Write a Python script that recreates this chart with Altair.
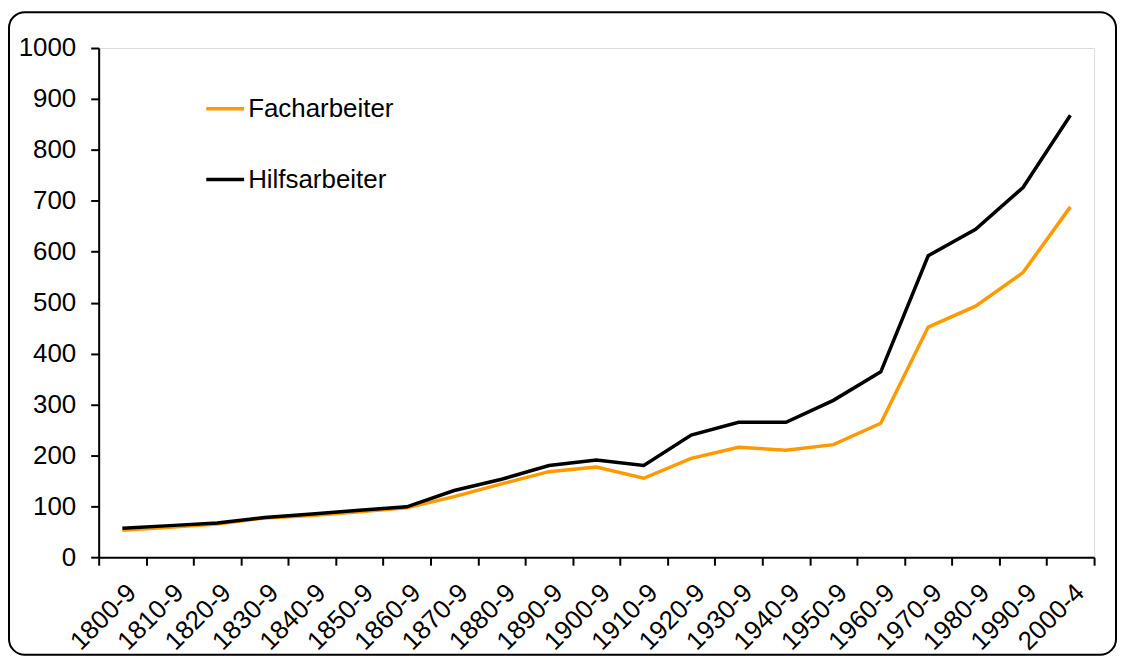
import altair as alt
import pandas as pd

periods = ["1800-9", "1810-9", "1820-9", "1830-9", "1840-9", "1850-9", "1860-9",
           "1870-9", "1880-9", "1890-9", "1900-9", "1910-9", "1920-9", "1930-9",
           "1940-9", "1950-9", "1960-9", "1970-9", "1980-9", "1990-9", "2000-4"]
facharbeiter = [53, 59, 65, 77, 82, 89, 97, 119, 144, 168, 177, 155, 194, 216,
                210, 221, 263, 452, 493, 559, 688]
hilfsarbeiter = [57, 62, 67, 78, 85, 92, 99, 131, 153, 180, 191, 180, 240, 265,
                 265, 308, 364, 592, 644, 726, 868]
series = ["Facharbeiter", "Hilfsarbeiter"]
colors = ["#FF9900", "#000000"]
y_ticks = list(range(0, 1001, 100))

rows = []
for name, vals in zip(series, [facharbeiter, hilfsarbeiter]):
    for p, v in zip(periods, vals):
        rows.append({"Zeitraum": p, "Wert": v, "Gruppe": name})
df = pd.DataFrame(rows)

FONT = "Liberation Sans"
FS = 26

frame = alt.Chart(alt.Data(values=[{"a": 1}])).mark_rect(
    fillOpacity=0, stroke="black", strokeWidth=2, cornerRadius=16
).encode(
    x=alt.value(-90), x2=alt.value(1021), y=alt.value(-36), y2=alt.value(609)
)

lines = alt.Chart(df).mark_line(strokeWidth=3.5).encode(
    x=alt.X("Zeitraum:N", sort=periods,
            scale=alt.Scale(type="band", paddingInner=0, paddingOuter=0),
            axis=alt.Axis(title=None, labelAngle=-45, tickBand="extent",
                          labelFont=FONT, labelFontSize=FS, labelColor="black",
                          domainColor="black", domainWidth=2, tickColor="black",
                          tickWidth=2, tickSize=8, labelPadding=14, grid=False,
                          zindex=1)),
    y=alt.Y("Wert:Q",
            scale=alt.Scale(domain=[0, 1000], nice=False),
            axis=alt.Axis(title=None, values=y_ticks, format="d",
                          labelFont=FONT, labelFontSize=FS, labelColor="black",
                          domainColor="black", domainWidth=2,
                          tickColor="black", tickWidth=2, tickSize=8,
                          labelPadding=15, grid=False, zindex=1)),
    color=alt.Color("Gruppe:N", sort=series,
                    scale=alt.Scale(domain=series, range=colors),
                    legend=alt.Legend(title=None, orient="none", legendX=106,
                                      legendY=40, symbolType="stroke",
                                      symbolSize=1444, symbolStrokeWidth=3.5,
                                      labelFont=FONT, labelFontSize=FS,
                                      labelColor="black", rowPadding=37,
                                      labelOffset=2)),
    order=alt.Order("Gruppe:N", sort="ascending"),
)

chart = alt.layer(frame, lines).properties(
    width=999, height=511,
    padding={"left": 0, "top": 2, "right": 2, "bottom": 0},
).configure_view(strokeWidth=0).configure(background="white")

chart.save("out.html", embed_options={"renderer": "svg", "actions": False})
